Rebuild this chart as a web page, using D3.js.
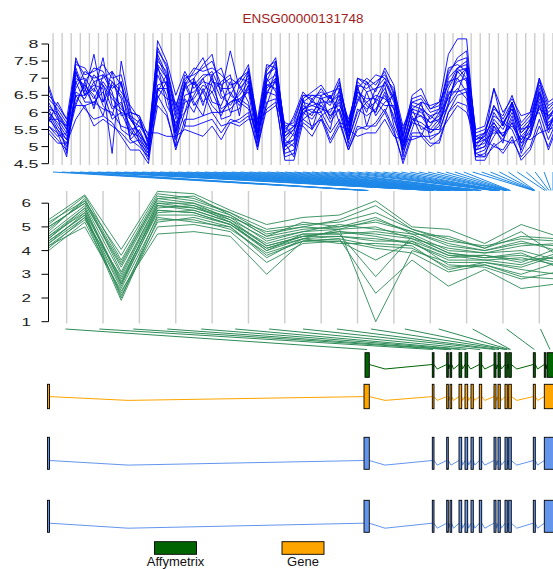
<!DOCTYPE html>
<html>
<head>
<meta charset="utf-8">
<script src="https://cdn.jsdelivr.net/npm/d3@7"></script>
<style>
  body { margin: 0; background: #fff; }
  svg { display: block; font-family: "Liberation Sans", Arial, Helvetica, sans-serif; }
</style>
</head>
<body>
<div id="chart"></div>
<script>
// Datos del gráfico
const chartTitle = "ENSG00000131748";
const topTicks = [4.5, 5, 5.5, 6, 6.5, 7, 7.5, 8];
const midTicks = [1, 2, 3, 4, 5, 6];

// posición genómica (pb relativas) de cada sonda de exón (panel superior)
const topProbePos = [15900, 15950, 16000, 16050, 19250, 19275, 19300, 19325, 19965, 19985,
  20005, 20025, 20135, 20155, 20175, 20195, 20590, 20625, 20660, 20695,
  20890, 20925, 20960, 20995, 21190, 21220, 21250, 21280, 21605, 21635,
  21665, 21695, 22335, 22360, 22385, 22410, 22540, 22565, 22595, 22620,
  22890, 22920, 22950, 22980, 23075, 23115, 23155, 24300, 24320, 24340,
  24360, 24380, 24875, 24975, 25075, 25175, 25275];

// posición genómica de cada probeset Affymetrix (panel del medio)
const midProbePos = [15975, 19275, 19990, 20175, 20640, 20940, 21640, 22375, 22575, 22900,
  22975, 23100, 23150, 24340, 25125];

// expresión por muestra, sondas de exón
const topExpr = [
  [6.0,5.7,5.3,7.0,6.8,6.4,6.9,6.5,6.2,5.6,5.2,4.9,7.3,6.8,5.5,6.5,6.6,6.9,6.8,6.1,6.3,6.5,6.9,5.2,6.9,7.1,5.0,5.2,6.2,6.0,6.3,5.9,6.3,5.3,6.4,6.1,6.3,6.7,6.1,5.0,5.8,5.7,5.5,5.8,6.7,7.2,7.3,4.9,5.0,5.7,5.3,5.9,5.1,5.5,6.4,5.6,6.1],
  [5.8,5.5,5.0,6.6,6.4,6.9,6.2,5.9,6.9,5.2,5.0,4.7,6.8,6.9,5.2,6.0,6.9,6.2,7.1,5.8,5.9,6.8,6.3,5.0,6.5,7.2,4.8,4.9,5.9,6.4,6.0,5.5,6.7,5.0,5.8,6.6,5.9,6.3,6.5,4.8,5.5,6.3,5.2,5.4,6.3,7.2,6.9,4.7,4.8,5.3,5.7,5.5,4.9,5.8,6.0,5.2,5.8],
  [6.5,6.2,5.8,7.5,7.1,7.2,7.4,7.0,7.1,6.0,5.9,5.3,7.9,7.3,6.2,7.0,7.1,7.3,7.5,6.8,7.0,6.8,7.2,5.6,7.3,7.5,5.5,5.8,6.5,6.4,6.6,6.4,6.8,5.7,6.8,6.7,6.9,7.1,6.6,5.4,6.3,6.4,6.0,6.1,7.2,7.5,7.6,5.3,5.4,6.2,5.8,6.3,5.6,5.9,6.8,6.1,6.4],
  [5.4,5.1,5.1,5.8,6.2,6.3,6.1,6.0,5.6,5.5,5.6,5.4,5.4,5.3,5.3,5.5,5.4,5.3,5.6,5.2,5.7,5.6,5.8,5.8,6.0,6.2,5.7,5.6,5.6,5.3,5.8,5.1,5.6,5.5,5.3,5.4,5.4,5.8,5.3,5.2,5.2,5.3,5.3,5.4,5.8,6.2,6.0,5.3,5.2,5.0,5.2,5.1,5.3,5.2,5.4,5.5,5.6],
  [6.2,5.9,5.5,7.3,6.6,7.7,6.3,6.8,6.5,5.8,5.4,5.0,7.6,7.0,5.8,6.7,6.9,6.6,7.0,6.4,6.6,6.2,6.7,5.4,6.7,7.0,5.2,5.5,6.1,6.2,6.1,6.0,6.5,5.4,6.6,6.3,6.0,6.9,6.3,5.1,6.0,5.9,5.7,5.9,6.9,7.0,7.3,5.0,5.1,5.8,5.5,6.0,5.3,5.6,6.5,5.7,6.0],
  [5.9,5.4,4.7,6.9,7.0,6.6,7.6,6.2,6.0,5.4,5.3,4.8,7.1,6.5,5.3,6.3,6.4,6.8,6.6,6.0,6.1,6.4,6.6,5.1,6.8,6.9,4.9,5.1,6.0,5.8,6.2,5.7,6.1,5.2,6.1,5.9,6.1,6.5,5.9,4.9,5.7,5.6,5.4,5.6,6.5,6.9,7.0,4.8,4.9,5.5,5.2,5.7,5.0,5.3,6.2,5.4,5.9],
  [6.3,5.8,5.6,7.2,6.5,6.8,6.7,4.8,7.5,6.1,5.1,4.6,8.1,7.5,6.5,7.2,6.7,7.0,7.2,6.6,7.8,6.7,7.0,5.5,7.1,7.4,5.3,5.6,6.3,6.5,6.4,6.2,6.9,5.6,7.0,6.9,6.6,7.3,6.8,5.3,6.2,6.1,5.9,6.0,7.0,7.3,7.4,5.1,5.2,6.0,5.6,6.2,5.5,5.8,6.7,5.9,6.2],
  [5.7,6.3,5.8,6.2,6.9,6.1,7.1,6.6,5.5,5.3,5.8,5.1,6.4,6.9,5.0,6.9,6.3,5.9,6.9,6.8,6.0,6.1,6.8,5.6,7.0,6.6,5.1,4.7,6.4,5.5,6.4,6.5,6.0,5.1,6.8,5.6,6.4,6.2,6.2,4.7,5.9,5.3,5.9,5.7,6.6,6.6,7.3,4.8,4.7,5.6,5.1,6.3,4.8,5.4,6.6,5.5,6.0],
  [6.8,6.0,5.6,7.4,7.3,6.9,7.0,7.2,6.8,5.9,5.7,5.2,7.7,7.1,6.0,6.9,7.3,7.2,7.3,7.1,6.8,6.9,7.4,5.7,7.2,7.6,5.4,5.9,6.6,6.3,6.7,6.3,6.6,5.8,6.7,7.0,6.8,7.2,6.5,5.5,6.4,6.5,6.1,6.2,7.1,7.6,7.8,5.4,5.5,6.1,5.9,6.5,5.7,6.0,7.0,6.3,6.5],
  [6.1,5.6,5.2,6.3,6.8,6.5,5.9,6.9,6.4,5.2,5.5,4.9,7.4,6.2,5.7,6.0,6.5,7.0,6.3,6.2,6.9,6.3,6.1,5.3,6.6,6.5,5.6,5.3,6.0,6.1,5.9,6.1,6.2,5.7,6.5,6.0,6.7,6.8,5.6,5.0,6.1,5.5,5.6,6.0,6.4,6.7,6.4,4.9,5.2,5.4,5.4,5.6,5.2,5.6,6.1,5.9,5.9],
  [5.6,5.3,5.4,7.1,6.7,6.2,6.8,6.1,6.3,5.5,5.1,4.8,7.4,7.0,5.4,6.8,7.0,7.4,7.7,6.5,6.2,6.6,7.1,5.2,7.1,7.3,5.0,5.4,6.4,6.6,6.8,6.4,7.0,5.4,7.0,6.8,7.1,7.0,6.4,5.2,6.5,6.7,6.1,6.3,7.7,8.15,8.15,5.2,5.4,6.2,5.7,6.1,5.4,5.7,6.6,5.8,6.3],
  [5.5,5.2,4.9,6.5,6.1,5.8,5.9,5.7,5.3,4.9,4.9,4.5,6.5,6.0,4.9,5.8,5.8,5.9,6.0,5.6,5.7,5.8,6.0,4.9,6.3,6.4,4.6,4.6,5.7,5.5,5.9,5.2,5.7,4.9,5.6,5.5,5.7,6.1,5.5,4.5,5.3,5.3,5.0,5.2,6.0,6.5,6.6,4.6,4.6,5.1,4.8,5.2,4.7,5.0,5.8,4.9,5.6],
  [6.4,6.1,5.7,6.7,7.2,7.0,7.1,6.9,6.6,6.2,5.8,5.1,7.5,7.2,6.1,7.1,6.8,7.1,7.1,7.3,6.5,7.0,7.2,5.8,7.4,7.3,5.6,5.7,6.5,6.5,6.5,6.6,6.7,5.6,6.9,6.6,6.7,7.0,6.7,5.6,6.1,6.3,6.2,6.3,6.8,7.3,7.5,5.5,5.6,6.7,6.0,6.4,5.9,6.0,6.9,6.2,6.4],
  [5.8,5.8,5.4,6.9,6.3,6.3,6.6,5.8,6.0,5.9,5.3,5.0,6.6,7.1,5.4,6.4,6.0,6.7,6.2,5.9,6.5,6.3,6.8,5.4,6.2,7.0,5.2,5.0,6.1,5.9,6.5,5.8,6.4,5.2,6.0,6.3,6.5,6.4,6.1,4.9,5.8,5.9,5.5,5.5,6.2,6.6,6.7,5.0,5.4,5.7,5.3,5.8,5.1,5.3,6.3,5.6,6.0],
  [6.7,5.9,4.8,7.6,6.9,7.3,7.2,6.7,6.9,5.8,5.6,5.2,7.8,7.4,5.9,6.8,7.2,7.6,6.9,6.7,6.7,7.0,6.9,5.6,6.9,7.5,5.3,5.5,6.3,6.2,6.3,6.3,6.5,5.5,6.6,6.4,6.4,6.9,6.4,5.3,6.3,6.2,5.8,6.1,7.3,7.4,7.2,5.1,5.3,5.9,5.7,6.1,5.4,5.7,6.6,6.0,6.3],
  [5.6,5.4,5.1,6.2,6.2,5.6,5.8,5.6,5.4,5.1,5.2,4.7,6.2,5.9,5.0,5.6,5.6,5.7,5.8,5.4,5.8,5.7,5.9,5.0,6.1,6.3,4.7,4.8,5.8,5.6,5.8,5.4,5.8,4.9,5.5,5.6,5.6,6.0,5.4,4.6,5.4,5.4,5.1,5.1,6.0,6.3,6.2,4.7,4.7,5.0,4.9,5.3,4.6,4.9,5.6,5.0,5.7],
  [6.1,6.0,5.5,7.2,6.5,6.7,6.3,7.2,5.9,6.0,5.9,5.0,6.7,6.4,6.3,5.6,7.0,6.3,6.6,6.9,7.1,5.9,7.3,5.4,6.6,6.9,5.4,5.6,5.8,6.0,6.0,6.5,5.7,5.6,6.3,6.9,6.3,6.0,6.6,5.1,6.1,6.0,5.7,5.8,6.2,7.3,7.0,5.2,5.3,6.7,5.6,6.3,5.5,5.6,7.0,5.8,6.2],
  [6.0,5.5,5.2,6.5,6.5,7.1,6.8,6.4,6.1,5.8,5.4,4.9,6.7,6.7,5.6,6.8,6.2,6.6,6.0,6.0,6.3,6.4,6.2,5.3,6.8,6.7,5.1,5.2,6.1,6.3,6.2,5.9,6.1,5.3,6.7,6.2,6.0,6.6,5.8,5.0,5.7,6.1,5.4,5.7,6.5,7.0,6.6,4.9,5.0,5.6,5.3,5.7,5.2,5.4,6.2,5.5,6.1]
];

// expresión por muestra, probesets Affymetrix
const midExpr = [
  [4.2,5.3,2.9,5.9,5.8,5.3,4.2,4.6,4.8,4.7,4.5,3.8,3.8,3.6,3.7],
  [4.4,5.5,2.5,5.7,5.6,5.1,4.0,4.5,4.6,4.5,4.3,3.6,3.6,3.4,3.9],
  [4.0,5.2,2.2,5.2,5.4,5.0,3.8,4.4,4.5,4.2,4.1,3.3,3.4,3.0,3.5],
  [5.0,6.0,3.4,6.2,6.0,5.5,4.6,4.9,5.0,5.2,4.8,4.2,4.0,4.4,4.0],
  [5.2,6.1,3.8,6.4,6.2,5.6,4.9,5.1,5.2,5.6,4.9,4.5,4.1,4.8,3.8],
  [4.6,5.8,2.7,5.8,5.9,5.2,4.3,4.7,4.7,2.9,4.6,3.9,3.7,3.9,3.3],
  [4.3,5.6,2.0,5.5,5.5,5.1,4.1,4.5,4.9,1.0,4.0,3.5,3.5,3.2,3.0],
  [4.8,6.2,3.1,6.0,5.8,5.4,4.4,4.8,5.1,4.9,4.7,4.0,3.9,4.2,4.3],
  [4.1,5.4,1.9,5.3,5.3,4.9,3.9,4.4,4.4,3.6,4.4,3.4,3.3,2.8,3.1],
  [5.3,6.35,4.05,6.5,6.4,5.7,5.1,5.4,5.5,6.1,5.0,4.9,4.3,5.1,4.6],
  [4.5,5.7,2.6,5.6,5.7,5.2,4.2,4.6,4.8,4.6,4.3,3.7,3.8,3.5,4.1],
  [4.2,5.0,2.3,4.7,4.8,4.6,3.0,4.4,4.5,2.2,3.6,2.5,3.2,2.4,2.6],
  [5.1,6.3,3.6,6.3,6.1,5.6,4.7,5.0,5.3,5.9,4.9,4.4,4.2,4.5,4.4],
  [4.7,5.9,3.0,6.0,6.0,5.3,4.5,4.8,4.9,5.0,4.5,4.1,3.9,4.0,3.6],
  [4.3,5.4,2.4,5.4,5.2,5.0,3.7,4.5,4.3,4.3,4.2,3.2,3.5,3.3,3.8],
  [5.0,6.0,3.3,6.1,5.9,5.4,4.8,5.0,4.9,5.3,4.8,4.3,4.0,4.3,4.2],
  [4.6,5.6,2.8,5.7,5.6,5.1,4.1,4.6,4.6,4.4,4.4,3.8,3.6,3.7,3.4],
  [4.4,5.5,2.1,5.0,5.1,4.8,3.5,4.3,4.4,4.1,3.9,3.1,3.4,2.9,2.8],
  [4.9,6.1,3.5,6.2,6.3,5.5,4.6,5.2,5.0,5.4,4.7,4.6,4.1,4.6,4.5],
  [4.5,5.8,2.6,5.9,5.7,5.2,4.0,4.7,4.7,4.8,4.6,3.9,3.7,3.8,3.5]
];

// exones [inicio, fin] en pb relativas
const geneExons = [[0,100],[15825,16090],[19240,19325],[19960,20040],[20125,20210],[20575,20710],
  [20875,21010],[21175,21290],[21590,21710],[22325,22425],[22525,22640],[22875,22990],
  [23060,23190],[24290,24390],[24840,25600]];
const affyExons = [[15875,16090],[19240,19325],[19960,20040],[20125,20210],[20575,20710],
  [20875,21010],[21590,21710],[22325,22425],[22525,22640],[22875,22990],[23060,23190],
  [24290,24390],[24840,24910],[24975,25600]];
const tx1Exons = [[0,100],[15825,16090],[19240,19325],[19960,20040],[20575,20710],
  [20875,21010],[21175,21290],[21590,21710],[22325,22425],[22525,22640],[22875,22990],
  [23060,23190],[24290,24390],[24840,25600]];
const tx2Exons = [[0,100],[15825,16090],[19240,19325],[19960,20040],[20125,20210],[20575,20710],
  [20875,21010],[21175,21290],[21590,21710],[22325,22425],[22525,22640],[22875,22990],
  [23060,23190],[24290,24390],[24840,25600]];

const legendLabels = ["Affymetrix", "Gene"];
const legendColors = ["#006400", "#FFA500"];

const width = 553, height = 569;
const left = 48.5, right = 557.5;

const svg = d3.select("#chart").append("svg")
    .attr("width", width)
    .attr("height", height);

// escala genómica compartida por todas las pistas
const gx = d3.scaleLinear().domain([0, 25500]).range([47.5, 557.5]);

// Título
svg.append("text")
    .attr("x", (left + right) / 2)
    .attr("y", 23)
    .attr("text-anchor", "middle")
    .attr("font-size", "13.5px")
    .attr("fill", "#a01c1c")
    .text(chartTitle);

function drawExpression(data, probePos, ticks, yDomain, yRange, panelTop, panelBottom,
                        color, mapColor, mapTop, mapBottom, labelX, fontSize) {
    const n = data[0].length;
    const x = d3.scaleLinear().domain([0, n - 1]).range([left, right]);
    const y = d3.scaleLinear().domain(yDomain).range(yRange);
    const g = svg.append("g");

    // líneas grises entre sondas
    g.selectAll("line.sep")
        .data(d3.range(n - 1))
        .enter()
        .append("line")
        .attr("x1", d => x(d + 0.5))
        .attr("x2", d => x(d + 0.5))
        .attr("y1", panelTop)
        .attr("y2", panelBottom)
        .attr("stroke", "#cccccc")
        .attr("stroke-width", 1.4);

    // una línea por muestra
    const line = d3.line().x((d, i) => x(i)).y(d => y(d));
    g.selectAll("path.sample")
        .data(data)
        .enter()
        .append("path")
        .attr("d", line)
        .attr("fill", "none")
        .attr("stroke", color)
        .attr("stroke-width", 0.9);

    // eje y
    g.append("line")
        .attr("x1", left).attr("x2", left)
        .attr("y1", y(ticks[0])).attr("y2", y(ticks[ticks.length - 1]))
        .attr("stroke", "black");
    g.selectAll("line.tick")
        .data(ticks)
        .enter()
        .append("line")
        .attr("x1", left - 7).attr("x2", left)
        .attr("y1", d => y(d)).attr("y2", d => y(d))
        .attr("stroke", "black");
    g.selectAll("text.tick")
        .data(ticks)
        .enter()
        .append("text")
        .attr("transform", d => `translate(${labelX},${y(d)}) scale(1.55,1)`)
        .attr("text-anchor", "end")
        .attr("dy", "0.36em")
        .attr("font-size", fontSize)
        .attr("fill", "#222")
        .text(d => d);

    // líneas de mapeo sonda -> posición genómica
    const xm = d3.scaleLinear().domain([0, n]).range([left, right]);
    g.selectAll("line.map")
        .data(probePos)
        .enter()
        .append("line")
        .attr("x1", (d, i) => xm(i + 0.5))
        .attr("y1", mapTop)
        .attr("x2", d => gx(d))
        .attr("y2", mapBottom)
        .attr("stroke", mapColor)
        .attr("stroke-width", 1);
}

function drawTrack(exons, top, bottom, lineY, dip, fill, lineColor) {
    const g = svg.append("g");
    const introns = [];
    for (let i = 0; i < exons.length - 1; i++) {
        const a = gx(exons[i][1]), b = gx(exons[i + 1][0]);
        introns.push([[a, lineY], [a + (b - a) * 0.25, lineY + dip], [b, lineY]]);
    }
    g.selectAll("path")
        .data(introns)
        .enter()
        .append("path")
        .attr("d", d3.line())
        .attr("fill", "none")
        .attr("stroke", lineColor)
        .attr("stroke-width", 1);

    g.selectAll("rect")
        .data(exons)
        .enter()
        .append("rect")
        .attr("x", d => gx(d[0]))
        .attr("y", top)
        .attr("width", d => Math.max(gx(d[1]) - gx(d[0]), 1))
        .attr("height", bottom - top)
        .attr("fill", fill)
        .attr("stroke", "black")
        .attr("stroke-width", 0.9);
}

drawExpression(topExpr, topProbePos, topTicks, [4.5, 8], [163.7, 44], 33, 165,
    "#0000ff", "#1e88e8", 172, 190.5, 38.5, "11.5px");
drawExpression(midExpr, midProbePos, midTicks, [1, 6], [321.7, 203.2], 191, 323.5,
    "#2e8b57", "#2e8b57", 329, 349.5, 31, "11px");

drawTrack(affyExons, 352.7, 377.3, 364.5, 4.5, "#006400", "#006400");
drawTrack(geneExons, 384.3, 408.7, 396.6, 3.8, "#FFA500", "#FFA500");
drawTrack(tx1Exons, 437.3, 469.3, 460.5, 4.6, "#6495ED", "#6495ED");
drawTrack(tx2Exons, 500.3, 532.3, 523.2, 5, "#6495ED", "#6495ED");

// Leyenda
const legendX = [154.5, 282];
const legend = svg.append("g");
legend.selectAll("rect")
    .data(legendLabels)
    .enter()
    .append("rect")
    .attr("x", (d, i) => legendX[i])
    .attr("y", 541.7)
    .attr("width", 42)
    .attr("height", 12.6)
    .attr("fill", (d, i) => legendColors[i])
    .attr("stroke", "black")
    .attr("stroke-width", 0.9);
legend.selectAll("text")
    .data(legendLabels)
    .enter()
    .append("text")
    .attr("x", (d, i) => legendX[i] + 21)
    .attr("y", 566)
    .attr("text-anchor", "middle")
    .attr("font-size", "13px")
    .attr("fill", "#111")
    .text(d => d);
</script>
</body>
</html>
